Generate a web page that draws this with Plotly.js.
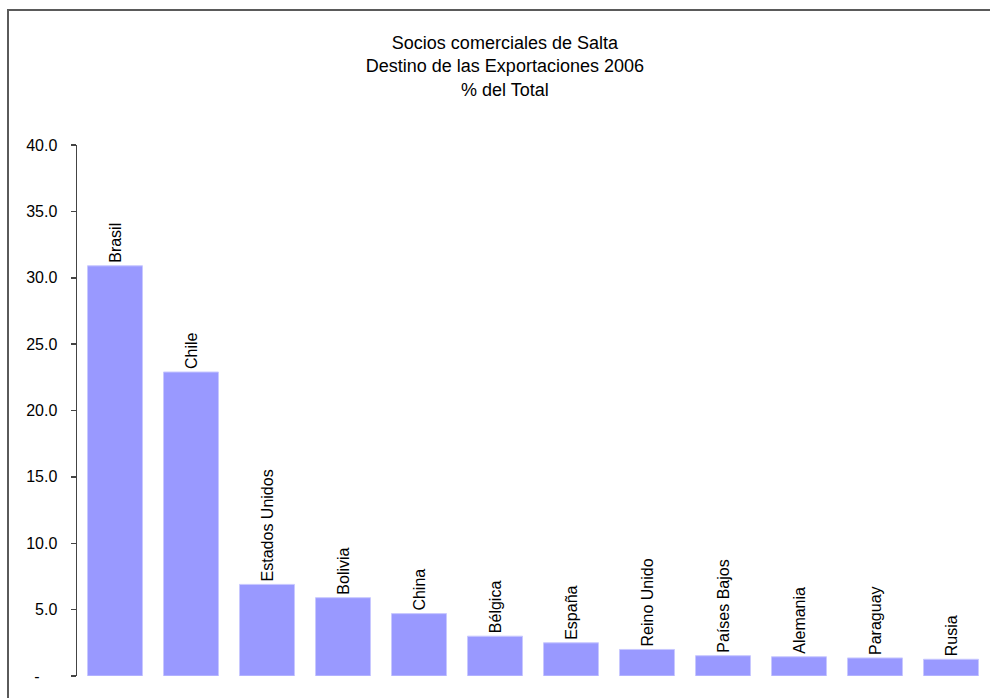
<!DOCTYPE html>
<html>
<head>
<meta charset="utf-8">
<script src="https://cdn.plot.ly/plotly-3.0.1.min.js"></script>
<style>
  html, body { margin: 0; padding: 0; background: #fff; overflow: hidden; }
  #chart { position: absolute; left: 0; top: 0; width: 990px; height: 698px; }
  #frame { position: absolute; left: 7px; top: 9px; width: 1200px; height: 1000px;
           border-left: 2px solid #5a5a5a; border-top: 2px solid #5a5a5a; pointer-events: none; }
</style>
</head>
<body>
<div id="chart"></div>
<div id="frame"></div>
<script>
const categories = ["Brasil", "Chile", "Estados Unidos", "Bolivia", "China", "Bélgica",
                    "España", "Reino Unido", "Países Bajos", "Alemania", "Paraguay", "Rusia"];
const shares = [30.9, 22.9, 6.9, 5.9, 4.7, 3.0, 2.5, 2.0, 1.53, 1.45, 1.36, 1.26];
const tickValues = [0, 5, 10, 15, 20, 25, 30, 35, 40];
const tickLabels = ["-\u00a0\u00a0\u00a0\u00a0", "5.0", "10.0", "15.0", "20.0", "25.0", "30.0", "35.0", "40.0"];

const font = "Liberation Sans, Arial, sans-serif";

const trace = {
  type: "bar",
  x: categories,
  y: shares,
  text: categories,
  textposition: "outside",
  textangle: -90,
  constraintext: "none",
  cliponaxis: false,
  textfont: { family: font, size: 16, color: "#000" },
  marker: { color: "#9999ff", line: { color: "#c8c8ff", width: 1 } },
  hoverinfo: "none"
};

const layout = {
  width: 990,
  height: 698,
  margin: { l: 77, r: 1, t: 145, b: 22 },
  paper_bgcolor: "#fff",
  plot_bgcolor: "#fff",
  showlegend: false,
  bargap: 0.276,
  font: { family: font, color: "#000" },
  title: {
    text: "Socios comerciales de Salta<br>Destino de las Exportaciones 2006<br>% del Total",
    font: { family: font, size: 18, color: "#000" },
    x: 0.51, xanchor: "center",
    y: 0.93, yanchor: "top", yref: "container"
  },
  xaxis: {
    showticklabels: false,
    showline: false,
    showgrid: false,
    zeroline: false,
    ticks: "",
    fixedrange: true
  },
  yaxis: {
    range: [0, 40],
    tickvals: tickValues,
    ticktext: tickLabels,
    ticks: "outside",
    ticklen: 5,
    tickwidth: 1.5,
    tickcolor: "#444",
    showline: true,
    linecolor: "#444",
    linewidth: 1.5,
    showgrid: false,
    zeroline: false,
    ticklabelstandoff: 10,
    tickfont: { family: font, size: 16, color: "#000" },
    fixedrange: true
  }
};

Plotly.newPlot("chart", [trace], layout, { displayModeBar: false, staticPlot: true });
</script>
</body>
</html>
